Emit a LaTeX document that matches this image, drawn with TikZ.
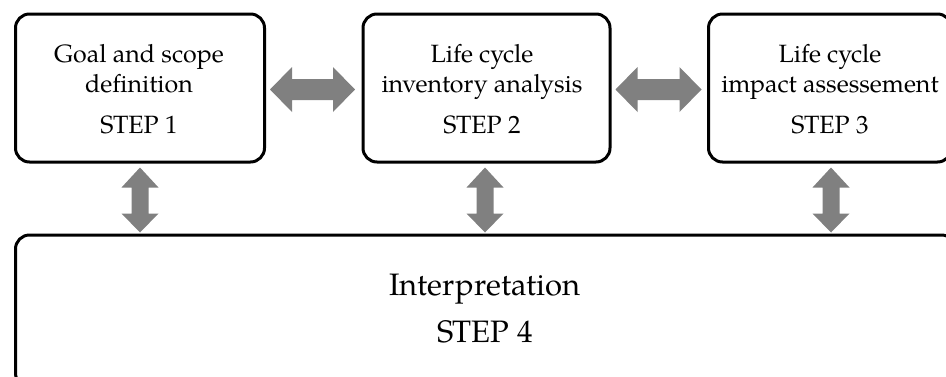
\documentclass[tikz,border=0pt]{standalone}
\usepackage{fontspec}
\setmainfont{TeX Gyre Pagella}
\usetikzlibrary{calc}
\definecolor{arrowgray}{RGB}{128,128,128}
\newcommand\hdarrow[2]{%
  \fill[arrowgray] let \p1=(#1), \p2=(#2) in
    (\x1,\y1) -- (\x1+22pt,\y1+22.5pt) -- (\x1+22pt,\y1+10.5pt) -- (\x2-22pt,\y1+10.5pt)
    -- (\x2-22pt,\y1+22.5pt) -- (\x2,\y1) -- (\x2-22pt,\y1-22.5pt) -- (\x2-22pt,\y1-10.5pt)
    -- (\x1+22pt,\y1-10.5pt) -- (\x1+22pt,\y1-22.5pt) -- cycle;}
\newcommand\vdarrow[2]{%
  \fill[arrowgray] let \p1=(#1), \p2=(#2) in
    (\x1,\y1) -- (\x1+18.5pt,\y1-20pt) -- (\x1+8.5pt,\y1-20pt) -- (\x1+8.5pt,\y2+19pt)
    -- (\x1+18.5pt,\y2+19pt) -- (\x1,\y2) -- (\x1-18.5pt,\y2+19pt) -- (\x1-8.5pt,\y2+19pt)
    -- (\x1-8.5pt,\y1-20pt) -- (\x1-18.5pt,\y1-20pt) -- cycle;}
\begin{document}
\begin{tikzpicture}[x=1pt,y=1pt,
  stepbox/.style={draw=black,line width=3pt,rounded corners=14pt,inner sep=0pt,outer sep=0pt},
  smalltxt/.style={anchor=base,inner sep=0pt,font=\fontsize{25}{30}\selectfont},
  bigtxt/.style={anchor=base,inner sep=0pt,font=\fontsize{31}{37}\selectfont}]
\useasboundingbox (0,0) rectangle (946,-376);
\clip (0,0) rectangle (946,-376);
% boxes
\node[stepbox,minimum width=249pt,minimum height=148pt] (b1) at (140,-88) {};
\node[stepbox,minimum width=247pt,minimum height=148pt] (b2) at (486.5,-88) {};
\node[stepbox,minimum width=243pt,minimum height=148pt] (b3) at (830,-88) {};
\node[stepbox,minimum width=940pt,minimum height=152pt] (b4) at (485.5,-311) {};
% texts
\node[smalltxt] (t1a) at (139,-62) {Goal and scope};
\node[smalltxt] (t1b) at (139,-92) {definition};
\node[smalltxt] (t1c) at (139,-133) {STEP 1};
\node[smalltxt] (t2a) at (482,-62) {Life cycle};
\node[smalltxt] (t2b) at (482,-92) {inventory analysis};
\node[smalltxt] (t2c) at (482,-133) {STEP 2};
\node[smalltxt] (t3a) at (830,-62) {Life cycle};
\node[smalltxt] (t3b) at (830,-92) {impact assessement};
\node[smalltxt] (t3c) at (830,-133) {STEP 3};
\node[bigtxt] (t4a) at (485,-295) {Interpretation};
\node[bigtxt] (t4b) at (485,-342) {STEP 4};
% connectors
\coordinate (h1s) at ($(b1.east)+(5.5,-1.5)$);
\coordinate (h1e) at ($(b2.west)+(-8,-1.5)$);
\coordinate (h2s) at ($(b2.east)+(5.5,-1.5)$);
\coordinate (h2e) at ($(b3.west)+(-7,-1.5)$);
\hdarrow{h1s}{h1e}
\hdarrow{h2s}{h2e}
\coordinate (v1s) at ($(b1.south)+(0,-5.5)$);
\coordinate (v1e) at ($(b1.south |- b4.north)+(0,2.5)$);
\coordinate (v2s) at ($(b2.south)+(-1.5,-5.5)$);
\coordinate (v2e) at ($(b2.south |- b4.north)+(-1.5,2.5)$);
\coordinate (v3s) at ($(b3.south)+(1,-5.5)$);
\coordinate (v3e) at ($(b3.south |- b4.north)+(1,2.5)$);
\vdarrow{v1s}{v1e}
\vdarrow{v2s}{v2e}
\vdarrow{v3s}{v3e}
\end{tikzpicture}
\end{document}
